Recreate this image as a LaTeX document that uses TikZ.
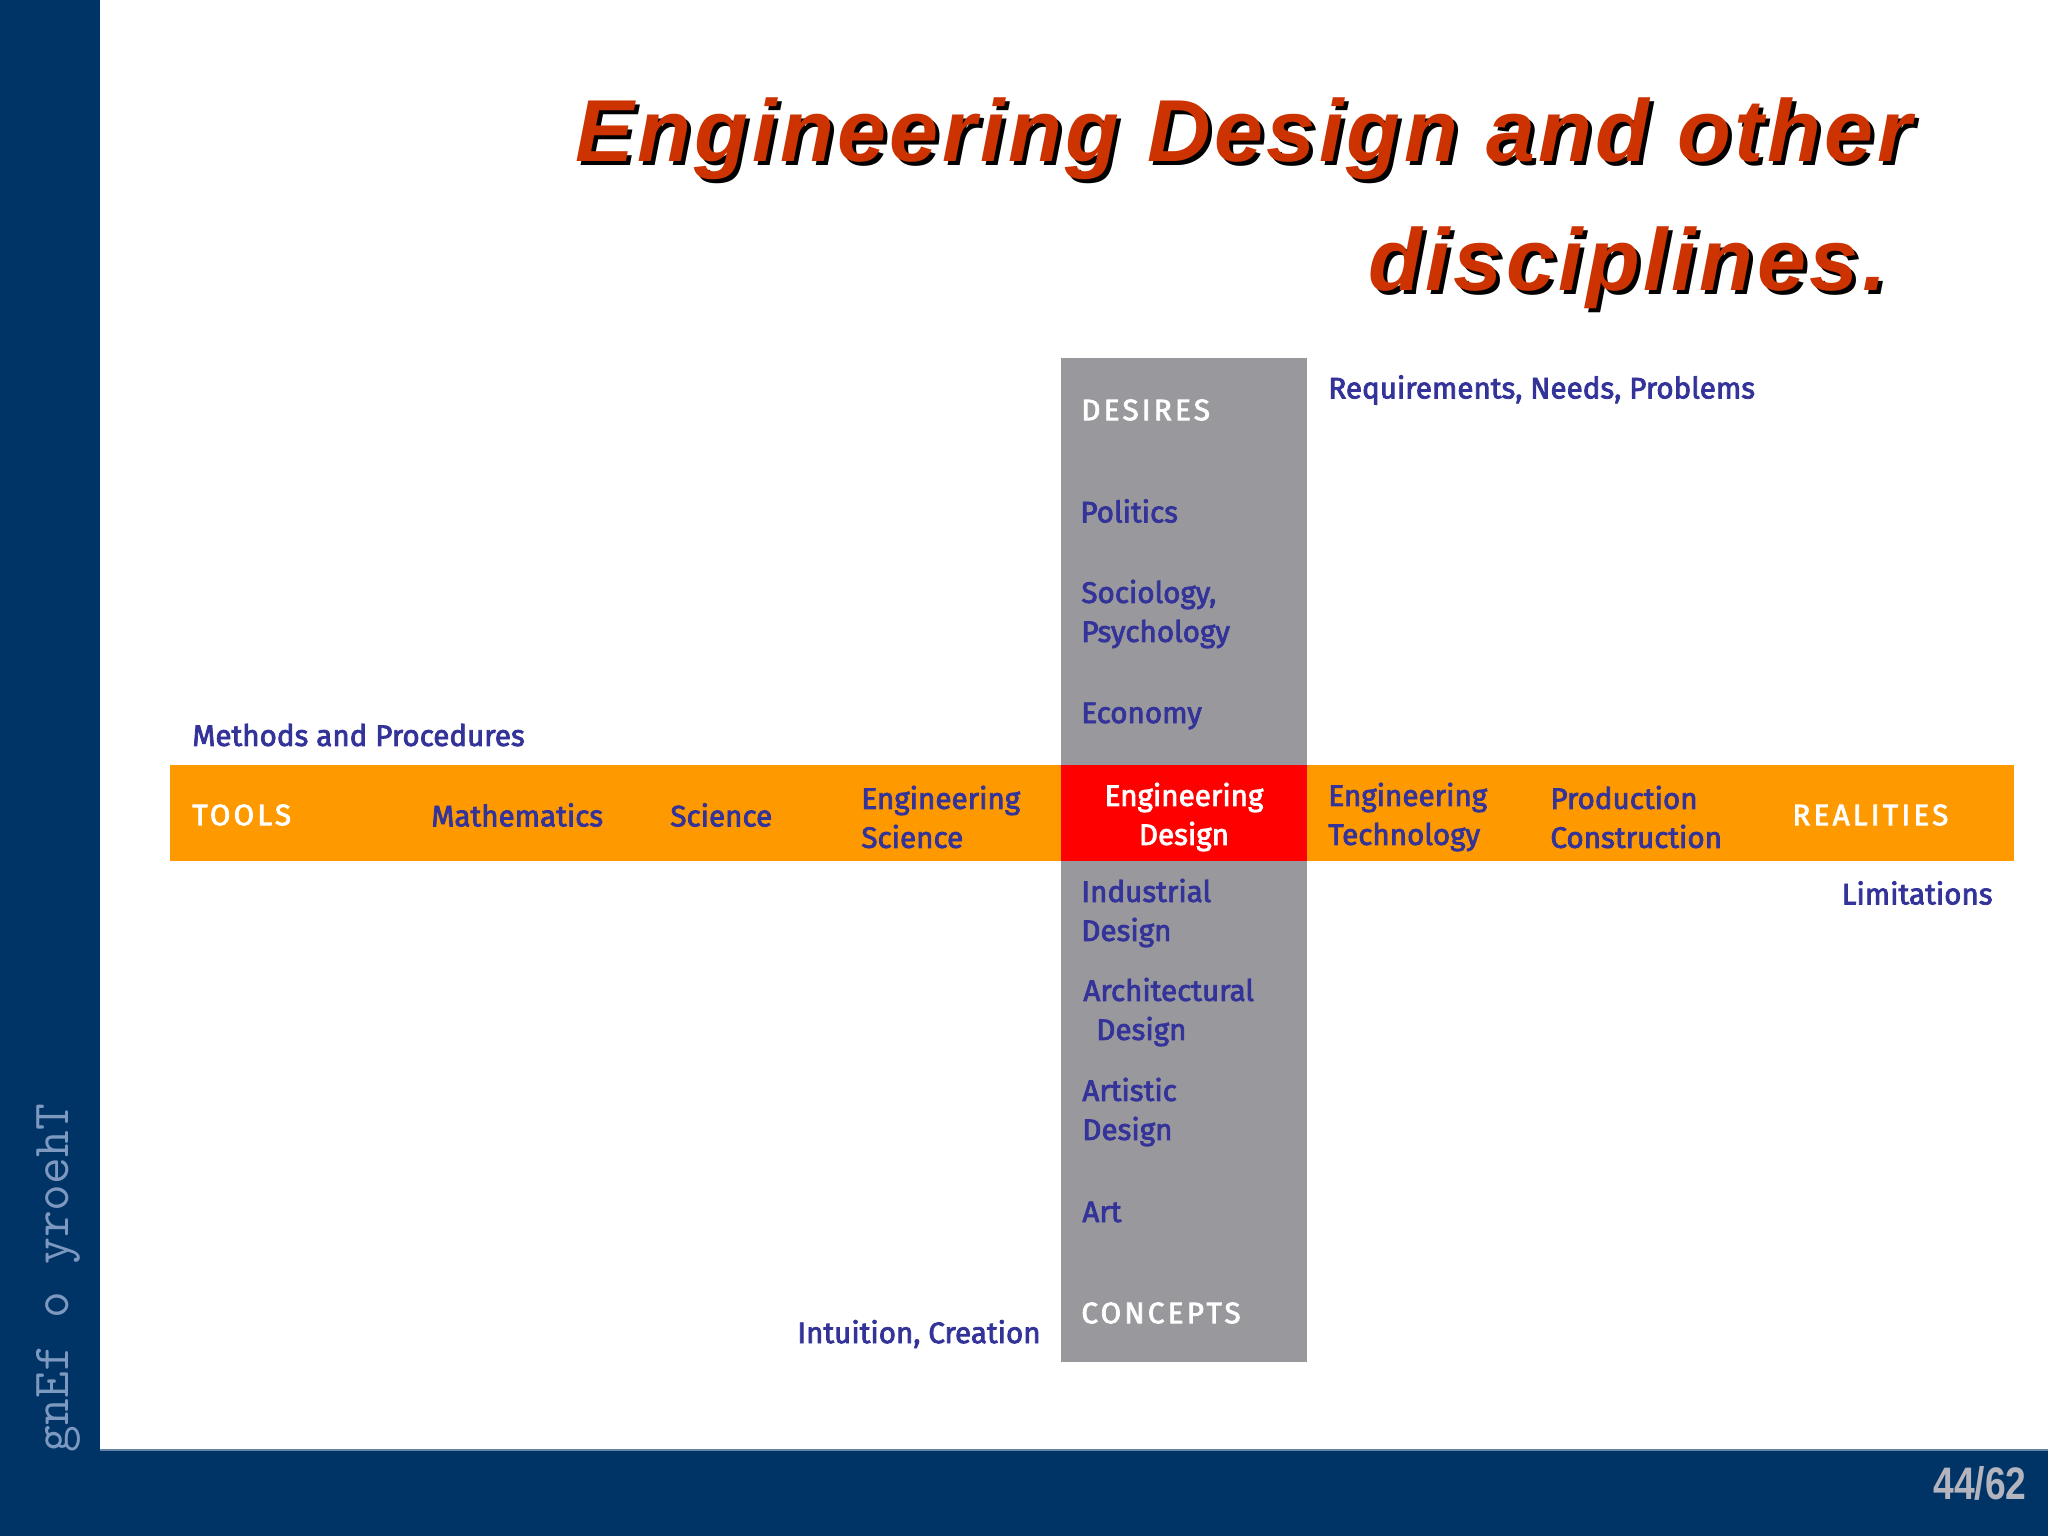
\documentclass[tikz,border=0pt]{standalone}
\usepackage{fontspec}
\usepackage{graphicx}
\newfontfamily\cf{Fira Sans}[FakeBold=2.6]
\newfontfamily\cfcaps{Fira Sans}[FakeBold=2.6, LetterSpace=11]
\newfontfamily\titlef{Liberation Sans}[LetterSpace=4]
\newfontfamily\pagef{Liberation Sans}
\definecolor{navy}{HTML}{003366}
\definecolor{txt}{HTML}{333399}
\definecolor{grayb}{HTML}{99989C}
\definecolor{orangeb}{HTML}{FF9900}
\definecolor{titlered}{HTML}{CC3300}
\definecolor{pagegray}{HTML}{B4B4BE}
\definecolor{sidetxt}{HTML}{7D99C0}
\tikzset{
  lbl/.style={font=\cf\fontsize{14.8}{19.5}\selectfont, text=txt, inner sep=0pt, anchor=west, align=left},
  wlbl/.style={lbl, text=white},
  capslbl/.style={lbl, text=white, font=\cfcaps\fontsize{14.8}{19.5}\selectfont},
  titletext/.style={font=\titlef\bfseries\itshape\fontsize{44}{50}\selectfont, inner sep=0pt, anchor=base west},
}
\begin{document}
\begin{tikzpicture}[x=0.5pt,y=-0.5pt]
\useasboundingbox (0,0) rectangle (2048,1536);
\fill[white] (0,0) rectangle (2048,1536);
% frame
\fill[navy] (0,0) rectangle (100,1536);
\fill[navy] (0,1450) rectangle (2048,1536);
\draw[navy!60!white, line width=0.8pt] (100,1450) -- (2048,1450);
% sidebar text
\node[rotate=90, font=\ttfamily\fontsize{26}{26}\selectfont, text=sidetxt, inner sep=0pt] (side) at (58,1278) {gnEf o yroehT};
% page number
\node[font=\pagef\bfseries\fontsize{19}{19}\selectfont, text=pagegray, inner sep=0pt, anchor=east] (page) at (2027,1483) {\scalebox{0.98}[1.2]{44/62}};
% title
\node[titletext, text=black] (t1s) at (579,165) {Engineering Design and other};
\node[titletext, text=titlered] (t1) at (575,161) {Engineering Design and other};
\node[titletext, text=black] (t2s) at (1372,294) {disciplines.};
\node[titletext, text=titlered] (t2) at (1368,290) {disciplines.};
% bars
\fill[grayb] (1061,358) rectangle (1307,1362);
\fill[orangeb] (170,765) rectangle (2014,861);
\fill[red] (1061,765) rectangle (1307,861);
% vertical column
\node[capslbl] (desires) at (1081,410) {DESIRES};
\node[lbl] (politics) at (1080,511) {Politics};
\node[lbl] (socio) at (1081,614) {Sociology,\\Psychology};
\node[lbl] (econ) at (1081,716) {Economy};
\node[lbl] (req) at (1328,390) {Requirements, Needs, Problems};
\node[lbl] (meth) at (192,735) {Methods and Procedures};
% horizontal row
\node[capslbl] (tools) at (192,815) {TOOLS};
\node[lbl] (math) at (431,815) {Mathematics};
\node[lbl] (sci) at (670,815) {Science};
\node[lbl] (engsci) at (861,817) {Engineering\\Science};
\node[wlbl, anchor=center, align=center] (engdes) at (1184,817) {Engineering\\Design};
\node[lbl] (engtech) at (1328,817) {Engineering\\Technology};
\node[lbl] (prod) at (1550,817) {Production\\Construction};
\node[capslbl] (real) at (1792,815) {REALITIES};
\node[lbl, anchor=east] (lim) at (1993,893) {Limitations};
% lower column
\node[lbl] (ind) at (1081,913) {Industrial\\Design};
\node[lbl] (arch) at (1083,1012) {Architectural\\\hspace{6.5pt}Design};
\node[lbl] (artd) at (1082,1112) {Artistic\\Design};
\node[lbl] (art) at (1082,1212) {Art};
\node[capslbl] (conc) at (1081,1313) {CONCEPTS};
\node[lbl, anchor=east] (intu) at (1041,1334) {Intuition, Creation};
\end{tikzpicture}
\end{document}
